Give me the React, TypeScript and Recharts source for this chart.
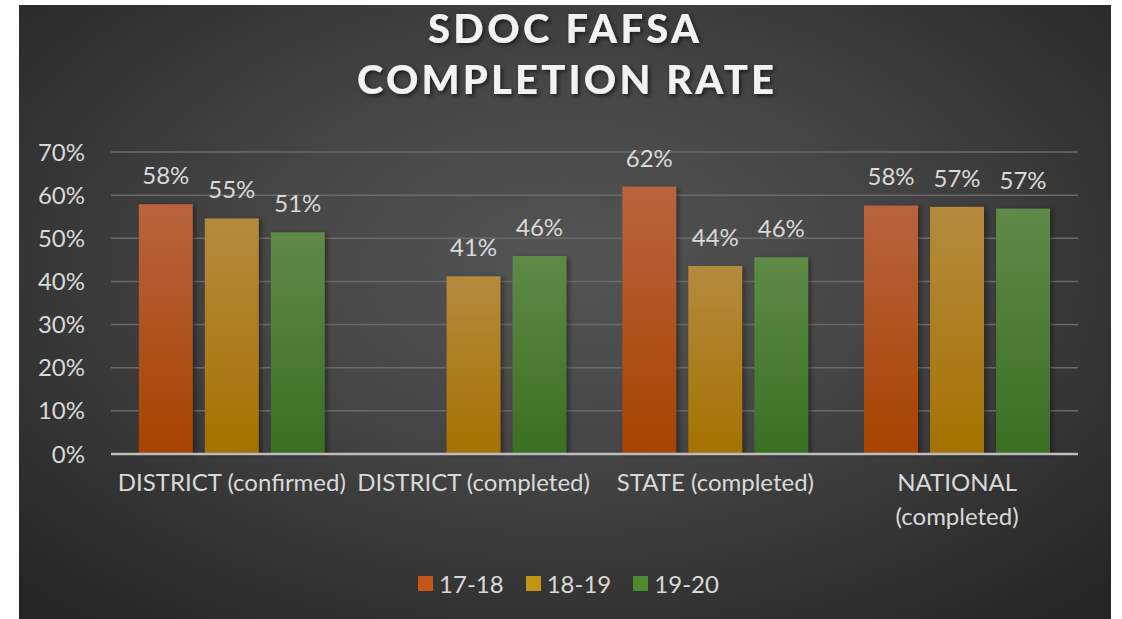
import React from "react";
import {
  Bar,
  BarChart,
  CartesianGrid,
  LabelList,
  Legend,
  XAxis,
  YAxis,
} from "recharts";

const categories = [
  "DISTRICT (confirmed)",
  "DISTRICT (completed)",
  "STATE (completed)",
  "NATIONAL\n(completed)",
];
const rate1718 = [57.9, null, 62.0, 57.6];
const rate1819 = [54.6, 41.2, 43.6, 57.3];
const rate1920 = [51.4, 45.9, 45.6, 56.9];
const yTicks = [0, 10, 20, 30, 40, 50, 60, 70];

const seriesList = [
  { key: "s1718", name: "17-18", swatch: "#c4561a", top: "#b9643f", bottom: "#a84200" },
  { key: "s1819", name: "18-19", swatch: "#c39312", top: "#b48a3e", bottom: "#a57200" },
  { key: "s1920", name: "19-20", swatch: "#4f8a32", top: "#5f8a48", bottom: "#3b6f22" },
];

const data = categories.map((c, i) => ({
  cat: c,
  s1718: rate1718[i],
  s1819: rate1819[i],
  s1920: rate1920[i],
}));

const FONT = "Lato, 'Open Sans', sans-serif";
const TEXT = "#d9d9d9";
const FS = 24;

const pct = (v: any) => (v == null ? "" : `${Math.round(Number(v))}%`);

const ShadowBar = (props: any) => {
  const { x, y, width, height, fill } = props;
  if (!height || height <= 0) return null;
  return (
    <g>
      <rect
        x={x + 3}
        y={y + 1}
        width={width}
        height={height}
        fill="rgba(0,0,0,0.35)"
        filter="url(#barBlur)"
      />
      <rect x={x} y={y} width={width} height={height} fill={fill} />
    </g>
  );
};

const CatTick = (props: any) => {
  const { x, y, payload } = props;
  const lines = String(payload.value).split("\n");
  return (
    <text
      x={x}
      y={y}
      textAnchor="middle"
      fill={TEXT}
      fontSize={FS}
      fontFamily={FONT}
    >
      {lines.map((l, i) => (
        <tspan key={i} x={x} dy={i === 0 ? 37 : 34}>
          {l}
        </tspan>
      ))}
    </text>
  );
};

const LegendContent = (props: any) => {
  const items = props.payload || [];
  return (
    <div
      style={{
        display: "flex",
        justifyContent: "center",
        alignItems: "center",
        marginTop: 4,
        height: 26,
        paddingLeft: 40,
        fontFamily: FONT,
        fontSize: FS,
        color: TEXT,
      }}
    >
      {items.map((it: any) => {
        const s = seriesList.find((q) => q.key === it.dataKey);
        return (
          <div
            key={it.value}
            style={{ display: "flex", alignItems: "center", margin: "0 11px" }}
          >
            <span
              style={{
                width: 15,
                height: 15,
                background: s ? s.swatch : it.color,
                marginRight: 6,
                display: "inline-block",
              }}
            />
            <span>{it.value}</span>
          </div>
        );
      })}
    </div>
  );
};

export default function App() {
  return (
    <div
      style={{
        position: "absolute",
        left: 0,
        top: 0,
        width: 1122,
        height: 619,
        background: "#fff",
        overflow: "hidden",
      }}
    >
      <div
        style={{
          position: "absolute",
          left: 19,
          top: 5,
          width: 1092,
          height: 614,
          background:
            "radial-gradient(ellipse 70% 75% at 50% 42%, #545454 0%, #464646 40%, #333 75%, #262626 100%)",
        }}
      >
        <BarChart
          width={1092}
          height={614}
          data={data}
          margin={{ top: 147, right: 33, bottom: 0, left: 0 }}
          barCategoryGap="11.5%"
          barGap={12}
        >
          <defs>
            {seriesList.map((s) => (
              <linearGradient key={s.key} id={`g-${s.key}`} x1="0" y1="0" x2="0" y2="1">
                <stop offset="0%" stopColor={s.top} />
                <stop offset="100%" stopColor={s.bottom} />
              </linearGradient>
            ))}
            <filter id="barBlur" x="-20%" y="-5%" width="140%" height="110%">
              <feGaussianBlur stdDeviation="2" />
            </filter>
          </defs>
          <CartesianGrid vertical={false} stroke="#6a6a6a" strokeWidth={1.5} />
          <XAxis
            dataKey="cat"
            height={112}
            tick={<CatTick />}
            tickLine={false}
            tickSize={0}
            tickMargin={0}
            interval={0}
            axisLine={{ stroke: "#bdbdbd", strokeWidth: 2.5 }}
          />
          <YAxis
            width={92}
            domain={[0, 70]}
            ticks={yTicks}
            tickFormatter={(v) => `${v}%`}
            axisLine={false}
            tickLine={false}
            tickSize={0}
            tickMargin={26}
            tick={{ fill: TEXT, fontSize: FS, fontFamily: FONT }}
          />
          <Legend
            verticalAlign="bottom"
            height={53}
            content={<LegendContent />}
          />
          {seriesList.map((s) => (
            <Bar
              key={s.key}
              dataKey={s.key}
              name={s.name}
              fill={`url(#g-${s.key})`}
              shape={<ShadowBar />}
              isAnimationActive={false}
            >
              <LabelList
                dataKey={s.key}
                position="top"
                offset={20}
                formatter={pct}
                fill={TEXT}
                fontSize={FS}
                fontFamily={FONT}
              />
            </Bar>
          ))}
        </BarChart>
      </div>
      <svg
        width={1122}
        height={619}
        style={{ position: "absolute", left: 0, top: 0, pointerEvents: "none" }}
      >
        <defs>
          <filter id="titleShadow" x="-10%" y="-30%" width="120%" height="160%">
            <feDropShadow dx="2" dy="2" stdDeviation="2" floodColor="#000" floodOpacity="0.6" />
          </filter>
        </defs>
        <g
          fill="#f2f2f2"
          fontFamily={FONT}
          fontWeight={900}
          fontSize={40}
          filter="url(#titleShadow)"
        >
          <text x={428} y={43} textLength={271} lengthAdjust="spacing">
            SDOC FAFSA
          </text>
          <text x={357} y={94} textLength={417} lengthAdjust="spacing">
            COMPLETION RATE
          </text>
        </g>
      </svg>
    </div>
  );
}
